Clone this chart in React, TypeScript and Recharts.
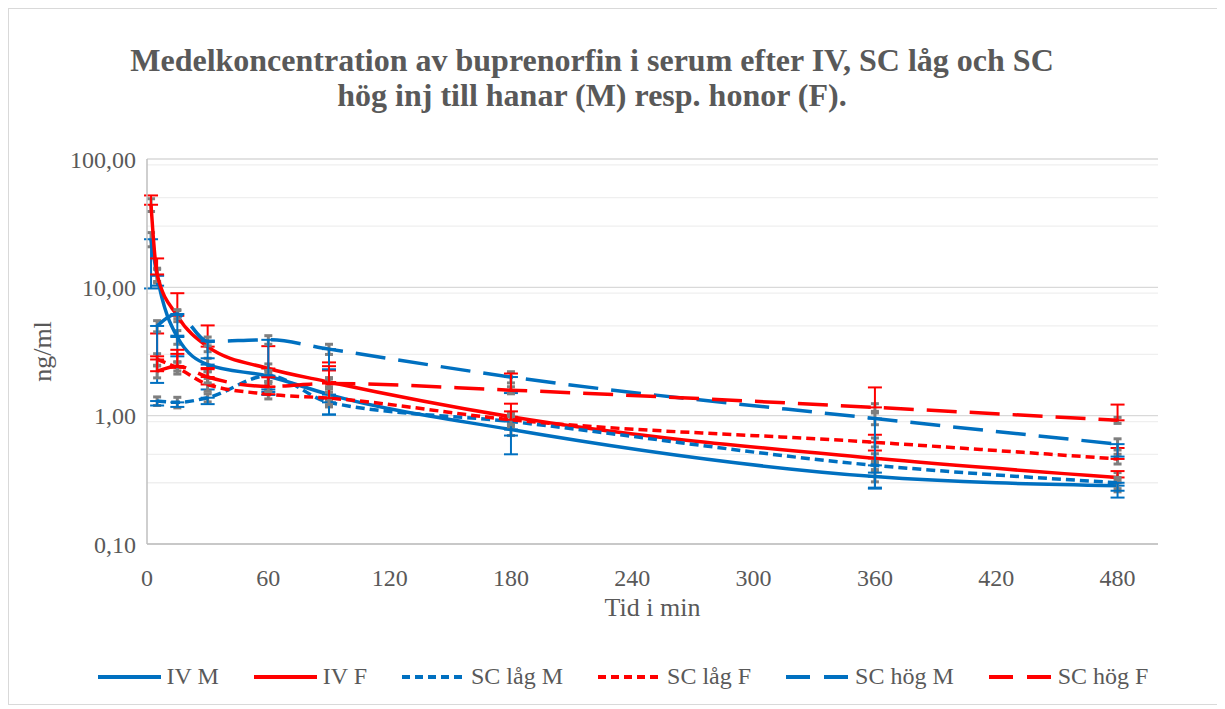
import { LineChart, Line, XAxis, YAxis, CartesianGrid, ErrorBar, Label } from "recharts";

const FONT = '"Liberation Serif", "Times New Roman", serif';
const BLUE = "#0070c0";
const RED = "#ff0000";
const GREY = "#7f7f7f";

// minutes after injection
const times = [2, 5, 15, 30, 60, 90, 180, 360, 480];

// mean concentration, ng/ml
const ivM = [23.7, 12.3, 4.1, 2.5, 2.03, 1.46, 0.78, 0.335, 0.285];
const ivF = [44, 12.6, 6.0, 3.45, 2.33, 1.83, 0.98, 0.465, 0.33];
const scLowM = [null, 1.3, 1.27, 1.38, 2.05, 1.27, 0.9, 0.41, 0.3];
const scLowF = [null, 2.74, 2.36, 1.75, 1.47, 1.37, 0.93, 0.62, 0.46];
const scHighM = [null, 5.0, 6.2, 3.8, 3.9, 3.3, 2.0, 0.95, 0.6];
const scHighF = [null, 2.22, 2.43, 2.0, 1.69, 1.78, 1.58, 1.16, 0.92];

// coloured error bars: males drawn downwards, females upwards
const ivMMinus = [13.9, 2.0, 1.2, 0.9, 0.5, 0.44, 0.28, 0.06, 0.055];
const ivFPlus = [8, 4.2, 3, 1.6, 1.15, 0.77, 0.26, 0.07, 0.04];
const scLowMMinus = [null, 0.1, 0.1, 0.15, 0.6, 0.25, 0.2, 0.05, 0.04];
const scLowFPlus = [null, 1.63, 0.9, 0.55, 0.2, 0.88, 0.15, 0.09, 0.1];
const scHighMMinus = [null, 3.2, 2.0, 1.0, 2.3, 1.0, 0.5, 0.68, 0.12];
const scHighFPlus = [null, 0.68, 0.6, 0.35, 0.3, 0.65, 0.55, 0.5, 0.3];

// small grey error bars
const ivMGrey = [3, 1.5, 0.5, 0.3, 0.25, 0.15, 0.08, 0.03, 0.03];
const ivFGrey = [5, 1.5, 0.6, 0.3, 0.2, 0.15, 0.08, 0.04, 0.03];
const scLowMGrey = [null, 0.1, 0.12, 0.1, 0.2, 0.1, 0.08, 0.03, 0.03];
const scLowFGrey = [null, 0.3, 0.25, 0.2, 0.12, 0.15, 0.08, 0.05, 0.04];
const scHighMGrey = [null, 0.5, 0.5, 0.3, 0.3, 0.3, 0.2, 0.1, 0.06];
const scHighFGrey = [null, 0.25, 0.2, 0.2, 0.15, 0.15, 0.1, 0.08, 0.05];

const xTicks = [0, 60, 120, 180, 240, 300, 360, 420, 480];
const yTicks = [0.1, 1, 10, 100];
const minorY = [
  0.2, 0.3, 0.4, 0.5, 0.6, 0.7, 0.8, 0.9,
  2, 3, 4, 5, 6, 7, 8, 9,
  20, 30, 40, 50, 60, 70, 80, 90,
];

const series = [
  { key: "ivM", name: "IV M", values: ivM, err: ivMMinus, grey: ivMGrey, color: BLUE, dash: undefined, down: true },
  { key: "ivF", name: "IV F", values: ivF, err: ivFPlus, grey: ivFGrey, color: RED, dash: undefined, down: false },
  { key: "scLowM", name: "SC låg M", values: scLowM, err: scLowMMinus, grey: scLowMGrey, color: BLUE, dash: "9 5", down: true },
  { key: "scLowF", name: "SC låg F", values: scLowF, err: scLowFPlus, grey: scLowFGrey, color: RED, dash: "9 5", down: false },
  { key: "scHighM", name: "SC hög M", values: scHighM, err: scHighMMinus, grey: scHighMGrey, color: BLUE, dash: "30 13", down: true },
  { key: "scHighF", name: "SC hög F", values: scHighF, err: scHighFPlus, grey: scHighFGrey, color: RED, dash: "30 13", down: false },
];

const data = times.map((t, i) => {
  const row: Record<string, unknown> = { t };
  series.forEach((s) => {
    row[s.key] = s.values[i];
    const e = s.err[i];
    row[s.key + "Err"] = e == null ? null : s.down ? [e, 0] : [0, e];
    row[s.key + "Grey"] = s.grey[i];
  });
  return row;
});

const fmt = (v: number) => v.toFixed(2).replace(".", ",");

export default function App() {
  return (
    <div
      style={{
        position: "relative",
        width: 1210,
        height: 695,
        border: "1px solid #d9d9d9",
        fontFamily: FONT,
        color: "#595959",
        background: "#fff",
      }}
    >
      <div
        style={{
          position: "absolute",
          left: 0,
          top: 34,
          width: 1166,
          textAlign: "center",
          fontSize: 32,
          fontWeight: "bold",
          lineHeight: "35px",
        }}
      >
        Medelkoncentration av buprenorfin i serum efter IV, SC låg och SC
        <br />
        hög inj till hanar (M) resp. honor (F).
      </div>
      <LineChart width={1210} height={695} data={data} margin={{ top: 150, right: 61, bottom: 88, left: 0 }}>
        <CartesianGrid horizontalValues={minorY} vertical={false} stroke="#efefef" strokeWidth={1.3} />
        <CartesianGrid vertical={false} stroke="#d9d9d9" strokeWidth={1.3} />
        <XAxis
          type="number"
          dataKey="t"
          domain={[0, 500]}
          ticks={xTicks}
          tickLine={false}
          tickSize={0}
          tickMargin={25}
          height={72}
          axisLine={{ stroke: "#bfbfbf", strokeWidth: 1.5 }}
          tick={{ fill: "#595959", fontSize: 24, fontFamily: FONT }}
        >
          <Label value="Tid i min" position="insideBottom" offset={0} fill="#595959" fontSize={26} fontFamily={FONT} />
        </XAxis>
        <YAxis
          scale="log"
          domain={[0.1, 100]}
          ticks={yTicks}
          allowDataOverflow
          width={138}
          tickLine={false}
          tickSize={0}
          tickMargin={11}
          tickFormatter={fmt}
          axisLine={{ stroke: "#bfbfbf", strokeWidth: 1.5 }}
          tick={{ fill: "#595959", fontSize: 24, fontFamily: FONT }}
        >
          <Label
            value="ng/ml"
            angle={-90}
            position="insideLeft"
            offset={33}
            fill="#595959"
            fontSize={26}
            fontFamily={FONT}
            style={{ textAnchor: "middle" }}
          />
        </YAxis>
        {series.map((s) => (
          <Line
            key={s.key}
            type="monotone"
            dataKey={s.key}
            name={s.name}
            stroke={s.color}
            strokeWidth={3.5}
            strokeDasharray={s.dash}
            dot={false}
            activeDot={false}
            isAnimationActive={false}
          >
            <ErrorBar dataKey={s.key + "Grey"} direction="y" width={4} stroke={GREY} strokeWidth={3} isAnimationActive={false} />
            <ErrorBar dataKey={s.key + "Err"} direction="y" width={7} stroke={s.color} strokeWidth={2} isAnimationActive={false} />
          </Line>
        ))}
      </LineChart>
      <div
        style={{
          position: "absolute",
          left: 0,
          top: 654,
          width: 1228,
          display: "flex",
          justifyContent: "center",
          alignItems: "center",
          gap: 35,
          fontSize: 24,
        }}
      >
        {series.map((s) => (
          <div key={s.key} style={{ display: "flex", alignItems: "center" }}>
            <svg width={63} height={10} style={{ marginRight: 6 }}>
              <line x1={0} y1={5} x2={63} y2={5} stroke={s.color} strokeWidth={4} strokeDasharray={s.dash === "30 13" ? "24 14" : s.dash === "9 5" ? "8 5" : undefined} />
            </svg>
            <span>{s.name}</span>
          </div>
        ))}
      </div>
    </div>
  );
}
